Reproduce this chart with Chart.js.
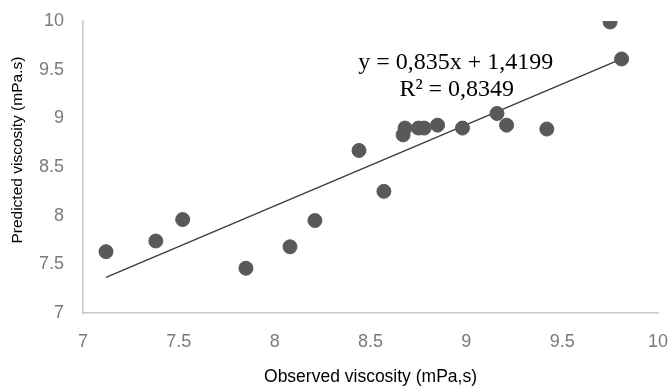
<!DOCTYPE html>
<html>
<head>
<meta charset="utf-8">
<script src="https://cdn.jsdelivr.net/npm/chart.js@4"></script>
<style>
  html, body { margin: 0; padding: 0; background: #fff; }
  #chart-container { width: 671px; height: 388px; }
</style>
</head>
<body>
<div id="chart-container"><canvas id="mycanvas" width="671" height="388"></canvas></div>
<script>
// observed vs predicted viscosity
var observed  = [7.12, 7.38, 7.52, 7.85, 8.08, 8.21, 8.44, 8.57, 8.67, 8.68, 8.75, 8.78, 8.85, 8.98, 9.16, 9.21, 9.42, 9.75, 9.81];
var predicted = [7.63, 7.74, 7.96, 7.46, 7.68, 7.95, 8.67, 8.25, 8.83, 8.90, 8.90, 8.90, 8.93, 8.90, 9.05, 8.93, 8.89, 9.99, 9.61];

// trendline given on the chart
var slope = 0.835;
var intercept = 1.4199;
var eqText = 'y = 0,835x + 1,4199';
var r2Text = 'R² = 0,8349';
var yTitle = 'Predicted viscosity (mPa.s)';

var xTicks = [7, 7.5, 8, 8.5, 9, 9.5, 10];
var yTicks = [7, 7.5, 8, 8.5, 9, 9.5, 10];

var points = [];
for (var i = 0; i < observed.length; i++) {
    points.push({ x: observed[i], y: predicted[i] });
}
var xMin = Math.min.apply(null, observed);
var xMax = Math.max.apply(null, observed);
var trend = [
    { x: xMin, y: slope * xMin + intercept },
    { x: xMax, y: slope * xMax + intercept }
];

var sansFamily = "'Liberation Sans Narrow', 'Liberation Sans', Arial";
var tickFont = { family: sansFamily, size: 18 };
var tickColor = '#7a7a7a';

// equation text and the rotated y title (title sits a bit above the plot centre)
var extraText = {
    id: 'extraText',
    afterDatasetsDraw: function(chart) {
        var ctx = chart.ctx;
        var xs = chart.scales.x, ys = chart.scales.y;
        ctx.save();
        ctx.fillStyle = '#000';
        ctx.textAlign = 'center';
        ctx.textBaseline = 'middle';
        ctx.font = "24px 'Liberation Serif', 'Times New Roman', serif";
        ctx.fillText(eqText, xs.getPixelForValue(8.945), ys.getPixelForValue(9.57));
        ctx.fillText(r2Text, xs.getPixelForValue(8.95), ys.getPixelForValue(9.29));

        ctx.font = "15.5px " + sansFamily;
        ctx.translate(18, ys.getPixelForValue(8.55) - 12);
        ctx.rotate(-Math.PI / 2);
        ctx.fillText(yTitle, 0, 0);
        ctx.restore();
    }
};

var ctx = document.getElementById('mycanvas');

var chart = new Chart(ctx, {
    type: 'scatter',
    data: {
        datasets: [
            {
                label: 'Predicted',
                data: points,
                backgroundColor: '#595959',
                borderColor: '#595959',
                pointRadius: 7,
                pointHoverRadius: 7,
                order: 1
            },
            {
                label: 'Trend',
                type: 'line',
                data: trend,
                borderColor: '#3a3a3a',
                borderWidth: 1.3,
                pointRadius: 0,
                fill: false,
                order: 2
            }
        ]
    },
    options: {
        responsive: false,
        animation: false,
        layout: { padding: { top: 21, right: 13, bottom: 0, left: 0 } },
        plugins: {
            legend: { display: false },
            tooltip: { enabled: false }
        },
        scales: {
            x: {
                type: 'linear',
                min: 7,
                max: 10,
                afterBuildTicks: function(scale) {
                    scale.ticks = xTicks.map(function(v) { return { value: v }; });
                },
                grid: { display: false, drawTicks: false },
                border: { display: true, color: '#c8c8c8', width: 1.5 },
                ticks: {
                    color: tickColor, font: tickFont, padding: 18,
                    maxRotation: 0, minRotation: 0, autoSkip: false,
                    callback: function(v) { return String(v); }
                },
                title: {
                    display: true,
                    text: 'Observed viscosity (mPa,s)',
                    color: '#000',
                    font: { family: sansFamily, size: 17.5 },
                    padding: { top: 2, bottom: 0 }
                },
                afterFit: function(scale) {
                    scale.height = 75;
                    scale.paddingLeft = 0;
                    scale.paddingRight = 0;
                }
            },
            y: {
                type: 'linear',
                min: 7,
                max: 10,
                afterBuildTicks: function(scale) {
                    scale.ticks = yTicks.map(function(v) { return { value: v }; });
                },
                grid: { display: false, drawTicks: false },
                border: { display: true, color: '#c8c8c8', width: 1.5 },
                ticks: {
                    color: tickColor, font: tickFont, padding: 19, autoSkip: false,
                    callback: function(v) { return String(v); }
                },
                afterFit: function(scale) {
                    scale.width = 83;
                    scale.paddingTop = 0;
                    scale.paddingBottom = 0;
                }
            }
        }
    },
    plugins: [extraText]
});
</script>
</body>
</html>
